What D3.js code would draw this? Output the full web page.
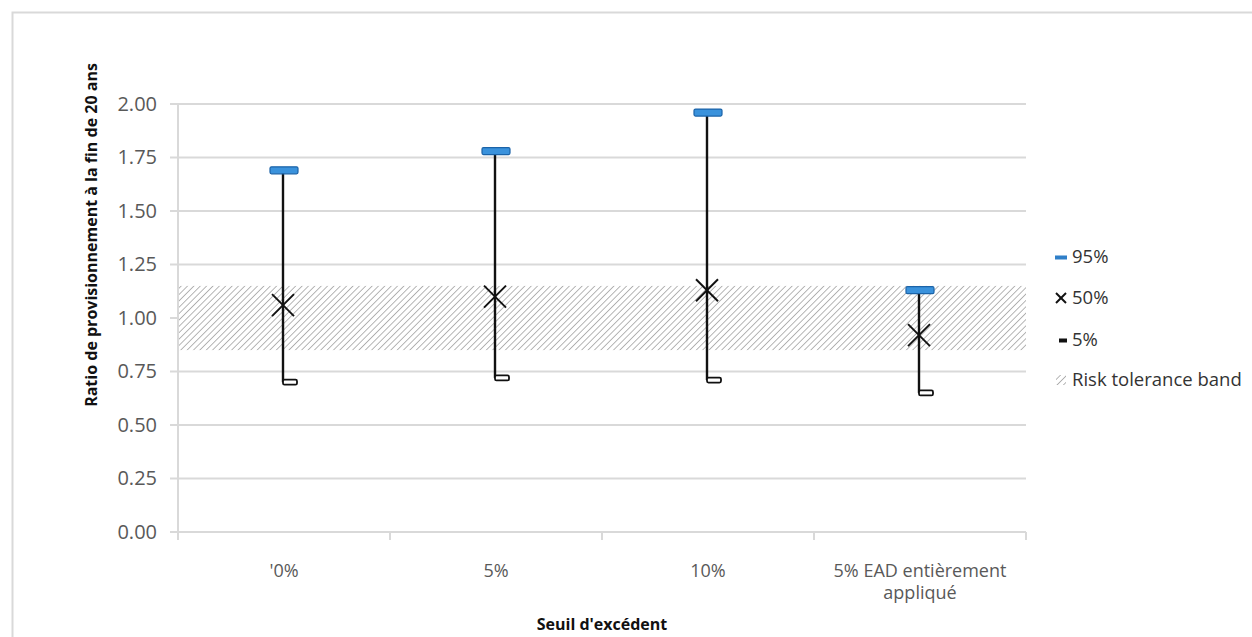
<!DOCTYPE html>
<html>
<head>
<meta charset="utf-8">
<script src="https://cdn.jsdelivr.net/npm/d3@7"></script>
<style>
  html, body { margin: 0; padding: 0; background: #fff; }
  svg { display: block; font-family: "Open Sans", "Noto Sans", sans-serif; }
</style>
</head>
<body>
<svg id="chart" width="1252" height="637"></svg>
<script>
// Funding ratio distribution after 20 years, by surplus threshold
const categories = ["'0%", "5%", "10%", "5% EAD entièrement appliqué"];
const p95 = [1.69, 1.78, 1.96, 1.13];
const p50 = [1.06, 1.10, 1.13, 0.92];
const p05 = [0.70, 0.72, 0.71, 0.65];
const band = [0.85, 1.15];
const yTicks = [0, 0.25, 0.5, 0.75, 1.0, 1.25, 1.5, 1.75, 2.0];
const legendLabels = ["95%", "50%", "5%", "Risk tolerance band"];

const svg = d3.select("#chart");
const margin = { left: 178, right: 226, top: 104, bottom: 105 };
const W = 1252, H = 637;
const iw = W - margin.left - margin.right;
const ih = H - margin.top - margin.bottom;

// outer chart frame
svg.append("rect")
  .attr("x", 12.5).attr("y", 12.5)
  .attr("width", W + 20).attr("height", H + 20)
  .attr("fill", "#fff").attr("stroke", "#d9d9d9").attr("stroke-width", 2);

const defs = svg.append("defs");
const pat = defs.append("pattern")
  .attr("id", "hatch").attr("patternUnits", "userSpaceOnUse")
  .attr("width", 4.5).attr("height", 4.5)
  .attr("patternTransform", "rotate(45)");
pat.append("rect").attr("width", 4.5).attr("height", 4.5).attr("fill", "#fff");
pat.append("line").attr("x1", 0).attr("y1", 0).attr("x2", 0).attr("y2", 4.5)
  .attr("stroke", "#8f8f8f").attr("stroke-width", 1.3);

const g = svg.append("g").attr("transform", `translate(${margin.left},${margin.top})`);

const x = d3.scaleBand().domain(categories).range([0, iw]).padding(0);
const y = d3.scaleLinear().domain([0, 2]).range([ih, 0]);

// horizontal gridlines
g.append("g").selectAll("line").data(yTicks).join("line")
  .attr("x1", -8).attr("x2", iw)
  .attr("y1", d => y(d)).attr("y2", d => y(d))
  .attr("stroke", "#d9d9d9").attr("stroke-width", 2);

// risk tolerance band
g.append("rect")
  .attr("x", 0).attr("width", iw)
  .attr("y", y(band[1])).attr("height", y(band[0]) - y(band[1]))
  .attr("fill", "url(#hatch)");

// y axis
const yAxis = d3.axisLeft(y).tickValues(yTicks).tickFormat(d3.format(".2f")).tickSize(0).tickPadding(21);
const ya = g.append("g").call(yAxis);
ya.select(".domain").remove();
ya.selectAll("text").attr("fill", "#595959").style("font-size", "20px").style("font-family", "Open Sans");
g.append("line").attr("x1", 0).attr("x2", 0).attr("y1", 0).attr("y2", ih)
  .attr("stroke", "#d9d9d9").attr("stroke-width", 2);

// x axis
const xa = g.append("g").attr("transform", `translate(0,${ih})`);
xa.append("line").attr("x1", 0).attr("x2", iw).attr("stroke", "#d9d9d9").attr("stroke-width", 2);
const bounds = [0].concat(categories.map(c => x(c) + x.bandwidth()));
xa.selectAll("line.tick").data(bounds).join("line").attr("class", "tick")
  .attr("x1", d => d).attr("x2", d => d).attr("y1", 0).attr("y2", 8)
  .attr("stroke", "#d9d9d9").attr("stroke-width", 2);
const labelLines = { "5% EAD entièrement appliqué": ["5% EAD entièrement", "appliqué"] };
categories.forEach(c => {
  const lines = labelLines[c] || [c];
  lines.forEach((l, i) => xa.append("text")
    .attr("x", x(c) + x.bandwidth() / 2).attr("y", 45 + i * 22)
    .attr("text-anchor", "middle").attr("fill", "#595959")
    .style("font-size", "18px").text(l));
});

// whiskers, markers
const cx = c => x(c) + x.bandwidth() / 2;
const series = categories.map((c, i) => ({ c, hi: p95[i], mid: p50[i], lo: p05[i] }));
g.append("g").selectAll("line").data(series).join("line")
  .attr("x1", d => cx(d.c) - 1).attr("x2", d => cx(d.c) - 1)
  .attr("y1", d => y(d.hi)).attr("y2", d => y(d.lo))
  .attr("stroke", "#111").attr("stroke-width", 2.4);

g.append("g").selectAll("rect").data(series).join("rect")
  .attr("x", d => cx(d.c) - 1).attr("y", d => y(d.lo) - 2.5)
  .attr("width", 14).attr("height", 5).attr("rx", 1.5)
  .attr("fill", "#fff").attr("stroke", "#111").attr("stroke-width", 1.8);

g.append("g").selectAll("rect").data(series).join("rect")
  .attr("x", d => cx(d.c) - 14).attr("y", d => y(d.hi) - 3.5)
  .attr("width", 28).attr("height", 7).attr("rx", 1.5)
  .attr("fill", "#3a92dc").attr("stroke", "#1b63a8").attr("stroke-width", 1.2);

const xs = 11;
const xm = g.append("g").selectAll("g").data(series).join("g")
  .attr("transform", d => `translate(${cx(d.c) - 1},${y(d.mid)})`);
xm.append("line").attr("x1", -xs).attr("y1", -xs).attr("x2", xs).attr("y2", xs)
  .attr("stroke", "#111").attr("stroke-width", 2);
xm.append("line").attr("x1", -xs).attr("y1", xs).attr("x2", xs).attr("y2", -xs)
  .attr("stroke", "#111").attr("stroke-width", 2);

// axis titles
svg.append("text")
  .attr("transform", `translate(97,${margin.top + ih / 2 - 83}) rotate(-90)`)
  .attr("text-anchor", "middle").attr("fill", "#111")
  .style("font-size", "16px").style("font-weight", "bold")
  .text("Ratio de provisionnement à la fin de 20 ans");
svg.append("text")
  .attr("x", margin.left + iw / 2).attr("y", 630)
  .attr("text-anchor", "middle").attr("fill", "#111")
  .style("font-size", "16px").style("font-weight", "bold")
  .text("Seuil d'excédent");

// legend
const lg = svg.append("g").attr("transform", "translate(1055,257)");
const rowY = [0, 41, 83, 123];
legendLabels.forEach((lab, i) => {
  const r = lg.append("g").attr("transform", `translate(0,${rowY[i]})`);
  if (i === 0) r.append("rect").attr("x", 0).attr("y", -1.5).attr("width", 12).attr("height", 4).attr("fill", "#2f7fc8");
  if (i === 1) {
    r.append("line").attr("x1", 1).attr("y1", -5).attr("x2", 11).attr("y2", 5).attr("stroke", "#111").attr("stroke-width", 2);
    r.append("line").attr("x1", 1).attr("y1", 5).attr("x2", 11).attr("y2", -5).attr("stroke", "#111").attr("stroke-width", 2);
  }
  if (i === 2) r.append("rect").attr("x", 4).attr("y", -1.5).attr("width", 8).attr("height", 4).attr("fill", "#111");
  if (i === 3) r.append("rect").attr("x", 1).attr("y", -5).attr("width", 10).attr("height", 10).attr("fill", "url(#hatch)");
  r.append("text").attr("x", 17).attr("y", 0).attr("dy", "0.35em")
    .attr("fill", "#333").style("font-size", "18.5px").text(lab);
});
</script>
</body>
</html>
